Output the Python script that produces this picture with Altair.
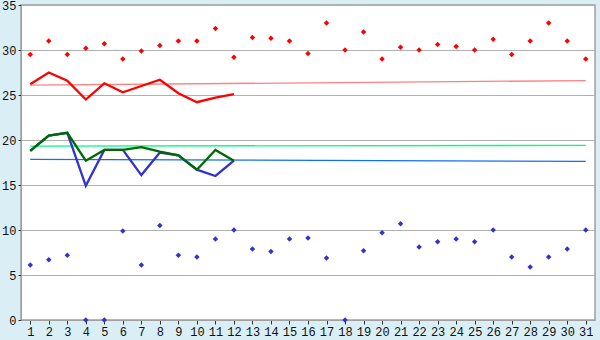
import altair as alt
import pandas as pd

days = list(range(1, 32))
max_temps = [29.5, 31.0, 29.5, 30.2, 30.7, 29.0, 29.9, 30.5, 31.0, 31.0,
             32.4, 29.2, 31.4, 31.3, 31.0, 29.6, 33.0, 30.0, 32.0, 29.0,
             30.3, 30.0, 30.6, 30.4, 30.0, 31.2, 29.5, 31.0, 33.0, 31.0, 29.0]
min_temps = [6.1, 6.7, 7.2, 0.0, 0.0, 9.9, 6.1, 10.5, 7.2, 7.0,
             9.0, 10.0, 7.9, 7.6, 9.0, 9.1, 6.9, 0.0, 7.7, 9.7,
             10.7, 8.1, 8.7, 9.0, 8.7, 10.0, 7.0, 5.9, 7.0, 7.9, 10.0]
line_days = list(range(1, 13))
red_line = [26.2, 27.5, 26.6, 24.5, 26.3, 25.3, 26.0, 26.7, 25.2, 24.2, 24.7, 25.1]
green_line = [18.8, 20.5, 20.8, 17.7, 18.9, 18.9, 19.2, 18.7, 18.3, 16.7, 18.9, 17.7]
blue_line = [18.8, 20.5, 20.8, 14.9, 18.9, 18.9, 16.1, 18.6, 18.3, 16.7, 16.0, 17.7]
trend_days = [1, 31]
red_trend = [26.1, 26.6]
green_trend = [19.33, 19.4]
blue_trend = [17.85, 17.63]

pts = pd.DataFrame({"day": days * 2,
                    "value": max_temps + min_temps,
                    "series": ["max"] * 31 + ["min"] * 31})

def line_df(xs, ys, name):
    return pd.DataFrame({"day": xs, "value": ys, "series": [name] * len(xs)})

x_enc = alt.X("day:Q", scale=alt.Scale(domain=[0.5, 31.5], nice=False, zero=False),
              axis=alt.Axis(values=days, format="d", title=None, grid=False,
                            tickSize=4, labelPadding=2, domainColor="#A0A0A0",
                            tickColor="#303030"))
y_enc = alt.Y("value:Q", scale=alt.Scale(domain=[0, 35], nice=False),
              axis=alt.Axis(values=[0, 5, 10, 15, 20, 25, 30, 35], title=None,
                            grid=True, gridColor="#B0B0B0", tickSize=3,
                            labelPadding=2, domainColor="#A0A0A0",
                            tickColor="#303030"))

def trend(ys, color):
    return alt.Chart(line_df(trend_days, ys, "t")).mark_line(
        color=color, strokeWidth=1.3).encode(x=x_enc, y=y_enc)

def thick(ys, color):
    return alt.Chart(line_df(line_days, ys, "l")).mark_line(
        color=color, strokeWidth=2.3).encode(x=x_enc, y=y_enc)

points = alt.Chart(pts).mark_point(shape="diamond", filled=True, size=30, opacity=1).encode(
    x=x_enc, y=y_enc,
    color=alt.Color("series:N", scale=alt.Scale(domain=["max", "min"],
                                                range=["#FF0000", "#3333CC"]),
                    legend=None))

chart = alt.layer(
    trend(red_trend, "#FF8080"),
    trend(green_trend, "#00FF80"),
    trend(blue_trend, "#1070F0"),
    thick(blue_line, "#3333CC"),
    thick(green_line, "#006A00"),
    thick(red_line, "#FF0000"),
    points,
).properties(
    width=574, height=315,
    autosize=alt.AutoSizeParams(type="none"),
    padding={"left": 21, "top": 5, "right": 5, "bottom": 20},
    background="#DAEFF5",
).configure_view(
    fill="white", stroke="#A0A0A0", strokeWidth=1.5
).configure_axis(
    labelFont="Liberation Mono", labelFontSize=12, labelColor="#101010"
)

chart.save("out.html", embed_options={"renderer": "svg", "actions": False})
